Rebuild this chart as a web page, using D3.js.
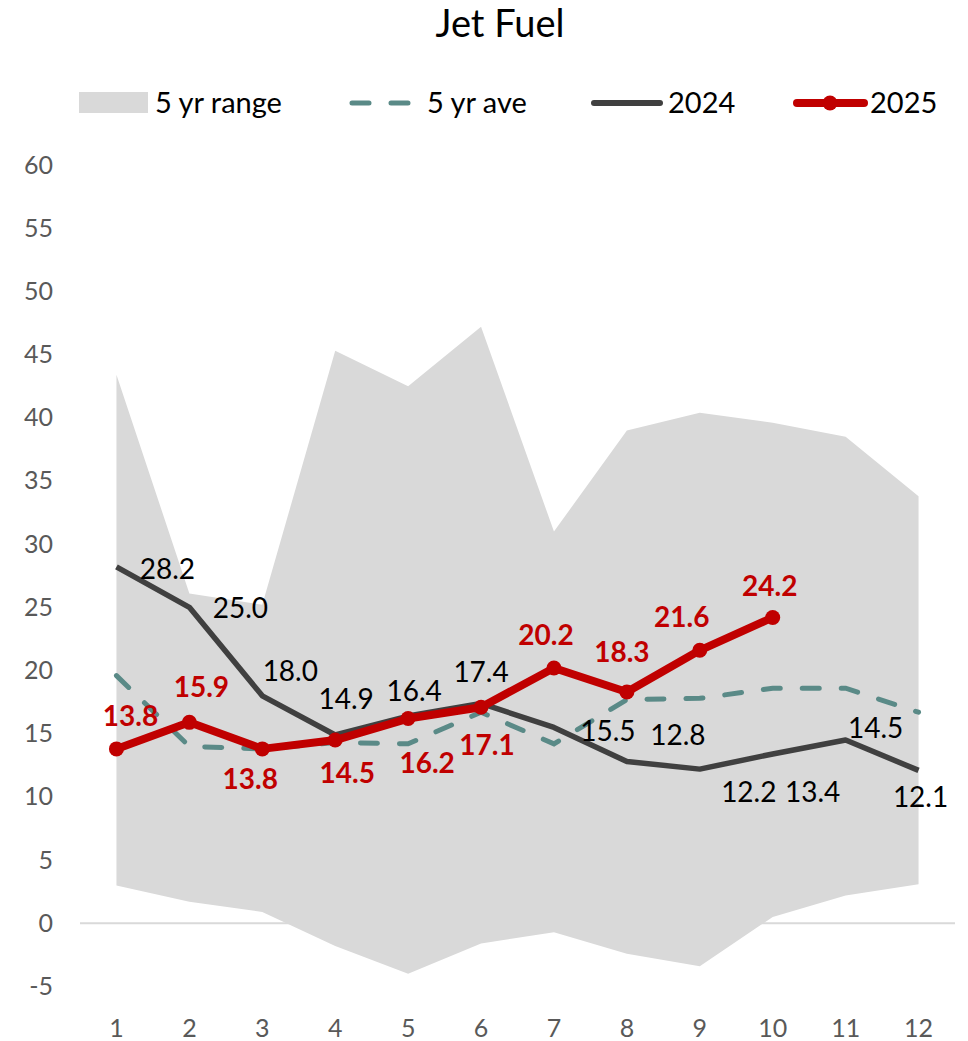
<!DOCTYPE html>
<html>
<head>
<meta charset="utf-8">
<script src="https://cdn.jsdelivr.net/npm/d3@7"></script>
<style>
  html, body { margin: 0; padding: 0; background: #fff; }
  svg { display: block; font-family: Lato, "Open Sans", sans-serif; }
</style>
</head>
<body>
<svg id="chart" width="968" height="1041"></svg>
<script>
'use strict';

// chart values
const months = [1, 2, 3, 4, 5, 6, 7, 8, 9, 10, 11, 12];
const rangeHigh = [43.4, 26.1, 25.2, 45.3, 42.5, 47.2, 31.0, 39.0, 40.4, 39.6, 38.5, 33.8];
const rangeLow = [3.0, 1.7, 0.9, -1.8, -4.0, -1.6, -0.7, -2.4, -3.4, 0.5, 2.2, 3.1];
const ave5 = [19.6, 14.0, 13.8, 14.3, 14.2, 16.7, 14.2, 17.7, 17.8, 18.6, 18.6, 16.7];
const y2024 = [28.2, 25.0, 18.0, 14.9, 16.4, 17.4, 15.5, 12.8, 12.2, 13.4, 14.5, 12.1];
const y2025 = [13.8, 15.9, 13.8, 14.5, 16.2, 17.1, 20.2, 18.3, 21.6, 24.2];
const yTicks = [-5, 0, 5, 10, 15, 20, 25, 30, 35, 40, 45, 50, 55, 60];

// label nudges (layout only)
const off2024 = [[51, 2], [51, 1], [28, -25], [11, -36], [6, -25], [0, -31],
                 [54, 4], [51, -27], [49, 23], [40, 38], [30, -12], [2, 27]];
const off2025 = [[14, -33], [12, -35], [-12, 30], [12, 33], [19, 44], [6, 38],
                 [-8, -33], [-5, -40], [-18, -33], [-3, -32]];

const svg = d3.select('#chart');

const x = d3.scaleBand().domain(months).range([80, 955]);
const cx = m => x(m) + x.bandwidth() / 2;
const y = d3.scaleLinear().domain([-5, 60]).range([986.5, 165]);

// title
svg.append('text')
  .attr('x', 500)
  .attr('y', 37)
  .attr('text-anchor', 'middle')
  .attr('font-size', 38)
  .attr('fill', '#000')
  .text('Jet Fuel');

// legend
const legend = svg.append('g').attr('font-size', 29).attr('fill', '#000');
legend.append('rect')
  .attr('x', 79).attr('y', 92).attr('width', 69).attr('height', 21)
  .attr('fill', '#d9d9d9');
legend.append('text').attr('x', 155).attr('y', 113).text('5 yr range');
legend.append('line')
  .attr('x1', 352).attr('x2', 410).attr('y1', 103).attr('y2', 103)
  .attr('stroke', '#5a8a87').attr('stroke-width', 5)
  .attr('stroke-linecap', 'round').attr('stroke-dasharray', '17 22');
legend.append('text').attr('x', 427).attr('y', 113).text('5 yr ave');
legend.append('line')
  .attr('x1', 594).attr('x2', 660).attr('y1', 103).attr('y2', 103)
  .attr('stroke', '#404040').attr('stroke-width', 6).attr('stroke-linecap', 'round');
legend.append('text').attr('x', 668).attr('y', 113).text('2024');
legend.append('line')
  .attr('x1', 797).attr('x2', 864).attr('y1', 103).attr('y2', 103)
  .attr('stroke', '#c00000').attr('stroke-width', 8).attr('stroke-linecap', 'round');
legend.append('circle').attr('cx', 830).attr('cy', 103).attr('r', 7.5).attr('fill', '#c00000');
legend.append('text').attr('x', 870).attr('y', 113).text('2025');

// 5 yr range band
const band = months.map((m, i) => ({ m: m, lo: rangeLow[i], hi: rangeHigh[i] }));
svg.append('path')
  .datum(band)
  .attr('fill', '#d9d9d9')
  .attr('d', d3.area().x(d => cx(d.m)).y0(d => y(d.lo)).y1(d => y(d.hi)));

// zero line
svg.append('line')
  .attr('x1', 80).attr('x2', 955)
  .attr('y1', y(0)).attr('y2', y(0))
  .attr('stroke', '#d9d9d9').attr('stroke-width', 2);

// axes
const yAxis = svg.append('g')
  .attr('transform', 'translate(80,0)')
  .call(d3.axisLeft(y).tickValues(yTicks).tickFormat(d => String(d)).tickSize(0).tickPadding(27));
const xAxis = svg.append('g')
  .attr('transform', `translate(0,${y(-5)})`)
  .call(d3.axisBottom(x).tickSize(0).tickPadding(33));
for (const ax of [yAxis, xAxis]) {
  ax.select('.domain').remove();
  ax.selectAll('text')
    .attr('font-family', 'Lato, "Open Sans", sans-serif')
    .attr('font-size', 25)
    .attr('fill', '#595959');
}

const line = d3.line().x(d => cx(d.m)).y(d => y(d.v));

// 5 yr average
svg.append('path')
  .datum(months.map((m, i) => ({ m: m, v: ave5[i] })))
  .attr('fill', 'none')
  .attr('stroke', '#5a8a87')
  .attr('stroke-width', 5)
  .attr('stroke-linecap', 'round')
  .attr('stroke-dasharray', '17 22')
  .attr('d', line);

// 2024
const s2024 = months.map((m, i) => ({ m: m, v: y2024[i], o: off2024[i] }));
svg.append('path')
  .datum(s2024)
  .attr('fill', 'none')
  .attr('stroke', '#404040')
  .attr('stroke-width', 5.5)
  .attr('stroke-linejoin', 'round')
  .attr('d', line);

// 2025
const s2025 = y2025.map((v, i) => ({ m: months[i], v: v, o: off2025[i] }));
svg.append('path')
  .datum(s2025)
  .attr('fill', 'none')
  .attr('stroke', '#c00000')
  .attr('stroke-width', 8)
  .attr('stroke-linejoin', 'round')
  .attr('d', line);
svg.append('g')
  .selectAll('circle')
  .data(s2025)
  .join('circle')
    .attr('cx', d => cx(d.m))
    .attr('cy', d => y(d.v))
    .attr('r', 7.5)
    .attr('fill', '#c00000');

// data labels
svg.append('g')
  .selectAll('text')
  .data(s2024)
  .join('text')
    .attr('x', d => cx(d.m) + d.o[0])
    .attr('y', d => y(d.v) + d.o[1])
    .attr('dy', '0.36em')
    .attr('text-anchor', 'middle')
    .attr('font-size', 28)
    .attr('fill', '#000')
    .text(d => d.v.toFixed(1));

svg.append('g')
  .selectAll('text')
  .data(s2025)
  .join('text')
    .attr('x', d => cx(d.m) + d.o[0])
    .attr('y', d => y(d.v) + d.o[1])
    .attr('dy', '0.36em')
    .attr('text-anchor', 'middle')
    .attr('font-size', 28)
    .attr('font-weight', 'bold')
    .attr('fill', '#c00000')
    .text(d => d.v.toFixed(1));
</script>
</body>
</html>
